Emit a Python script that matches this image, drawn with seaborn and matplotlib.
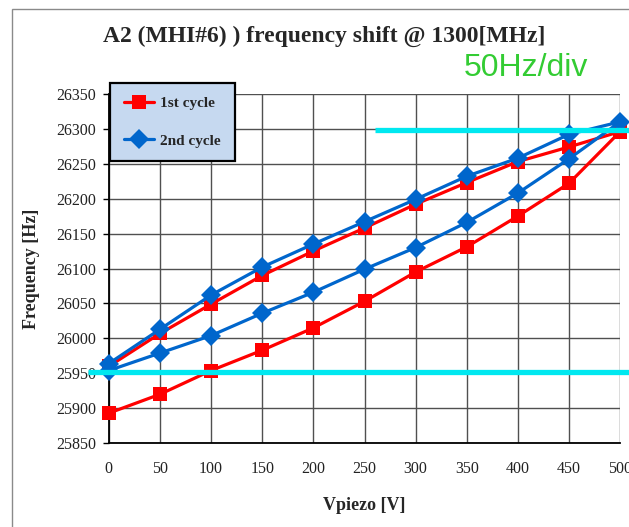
import matplotlib
matplotlib.use("Agg")
import matplotlib.pyplot as plt
import seaborn as sns
import pandas as pd
from matplotlib.patches import Rectangle

# Vpiezo going up then coming back down
v_up = [0, 50, 100, 150, 200, 250, 300, 350, 400, 450, 500]
v_down = [450, 400, 350, 300, 250, 200, 150, 100, 50, 0]

# 1st cycle (red)
red_up = [25893, 25920, 25954, 25983, 26015, 26053, 26095, 26131, 26175, 26222, 26296]
red_down = [26274, 26253, 26223, 26192, 26158, 26125, 26090, 26049, 26007, 25960]

# 2nd cycle (blue)
blue_up = [25954, 25979, 26004, 26036, 26066, 26099, 26130, 26166, 26208, 26257, 26310]
blue_down = [26292, 26258, 26232, 26199, 26167, 26135, 26102, 26062, 26013, 25964]

cycles = ["1st cycle", "2nd cycle"]
x_ticks = list(range(0, 501, 50))
y_ticks = list(range(25850, 26351, 50))

# cyan guide lines drawn over the chart (50 Hz/div marker)
lower_ref = 25952
upper_ref = 26298

rows = []
for name, up, down in [(cycles[0], red_up, red_down), (cycles[1], blue_up, blue_down)]:
    volts = v_up + v_down
    freqs = up + down
    for i, (v, f) in enumerate(zip(volts, freqs)):
        rows.append({"Vpiezo": v, "Frequency": f, "cycle": name, "step": i})
df = pd.DataFrame(rows)

sns.set_theme(style="white")
plt.rcParams["font.family"] = ["Liberation Serif", "DejaVu Serif"]

fig = plt.figure(figsize=(6.29, 5.27), dpi=100)
ax = fig.add_axes([0.173, 0.159, 0.813, 0.663])

palette = {cycles[0]: "#ff0000", cycles[1]: "#0066cc"}
markers = {cycles[0]: "s", cycles[1]: "D"}
sns.lineplot(data=df, x="Vpiezo", y="Frequency", hue="cycle", style="cycle",
             palette=palette, markers=markers, dashes=False, sort=False,
             estimator=None, units="cycle", linewidth=2.3, markersize=10,
             markeredgewidth=0, ax=ax, zorder=3)
for line in ax.lines:
    line.set_clip_on(False)
    if line.get_marker() == "s":
        line.set_markersize(10.5)

ax.set_xlim(0, 500)
ax.set_ylim(25850, 26350)
ax.set_xticks(x_ticks)
ax.set_yticks(y_ticks)
ax.grid(True, color="#505050", linewidth=1.0)
ax.set_axisbelow(True)
for s in ["top", "right"]:
    ax.spines[s].set_visible(False)
for s in ["left", "bottom"]:
    ax.spines[s].set_color("black")
    ax.spines[s].set_linewidth(1.3)
ax.tick_params(axis="y", direction="out", length=4, width=1, color="black",
               pad=5, labelsize=11.5, labelcolor="#222222", left=True)
ax.tick_params(axis="x", length=0, pad=13, labelsize=11.5, labelcolor="#222222")

ax.set_xlabel("Vpiezo [V]", fontsize=13, fontweight="bold", labelpad=14)
ax.set_ylabel("Frequency [Hz]", fontsize=13, fontweight="bold", labelpad=12)

# cyan guide lines
ax.plot([-20, 520], [lower_ref, lower_ref], color="#00e8f0", linewidth=3.8,
        clip_on=False, zorder=4, solid_capstyle="butt")
ax.plot([260, 520], [upper_ref, upper_ref], color="#00e8f0", linewidth=3.8,
        clip_on=False, zorder=4, solid_capstyle="butt")

handles, labels = ax.get_legend_handles_labels()
leg = ax.legend(handles, labels, loc="upper left", bbox_to_anchor=(0.175, 0.843),
                bbox_transform=fig.transFigure, borderaxespad=0, frameon=True,
                fancybox=False, framealpha=1, facecolor="#c6d9f0",
                edgecolor="black", prop={"weight": "bold", "size": 11},
                handlelength=2.0, handletextpad=0.4, labelspacing=1.55,
                borderpad=0.9)
leg.get_frame().set_linewidth(1.6)
leg.set_zorder(10)

fig.text(0.515, 0.932, "A2 (MHI#6) ) frequency shift @ 1300[MHz]", ha="center",
         va="center", fontsize=17, fontweight="bold")
fig.text(0.836, 0.871, "50Hz/div", ha="center", va="center", fontsize=23,
         color="#33cc33", family=["Liberation Sans", "DejaVu Sans"])

# outer chart border (cropped on the right and bottom)
fig.patches.append(Rectangle((12 / 629, -0.1), 1.2, 1.1 - 9 / 527,
                             transform=fig.transFigure, fill=False,
                             edgecolor="#8a8a8a", linewidth=1.0))

fig.savefig("out.png", dpi=100)
